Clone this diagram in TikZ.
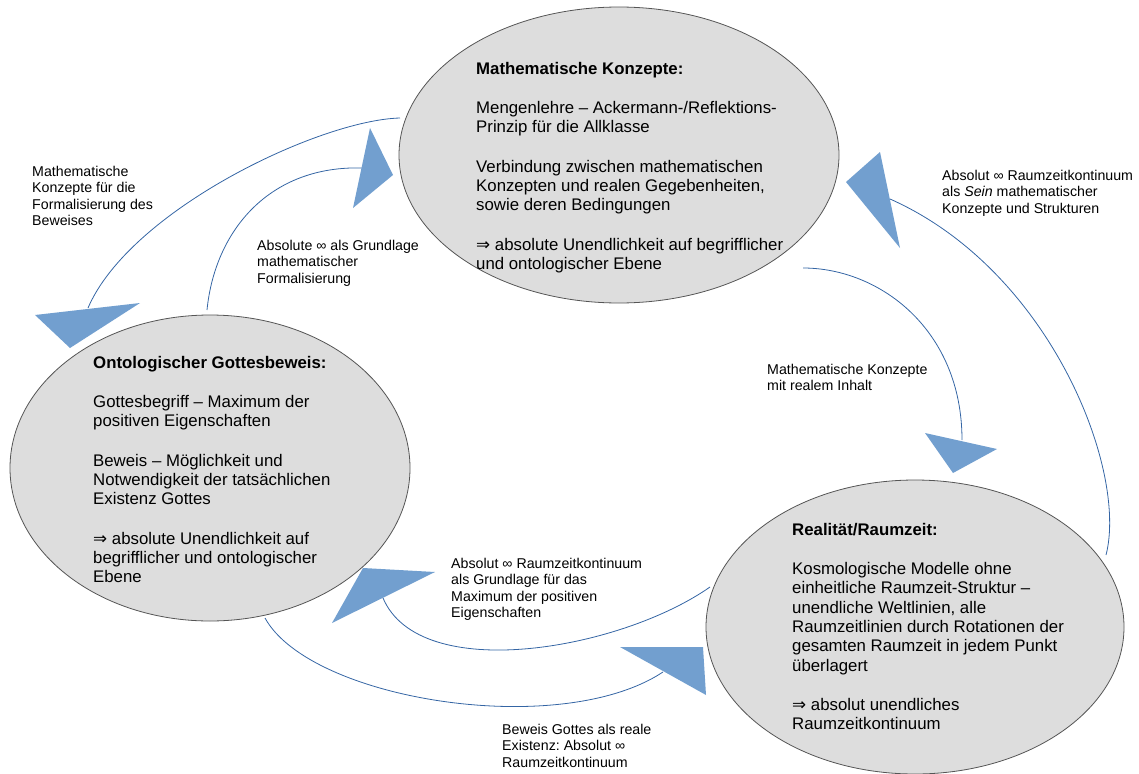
\documentclass[tikz,border=0pt]{standalone}
\usepackage{fontspec}
\setmainfont{Liberation Sans}
\newfontfamily\arrowfont{DejaVu Sans}
\usetikzlibrary{shapes.geometric}
\definecolor{blobgray}{HTML}{DDDDDD}
\definecolor{ringgray}{HTML}{555555}
\definecolor{flowline}{HTML}{3465A4}
\definecolor{headblue}{HTML}{729FCF}
\newcommand{\impl}{{\arrowfont ⇒}}
\frenchspacing

\begin{document}
\begin{tikzpicture}[x=1pt,y=-1pt,
    blob/.style={ellipse,draw=ringgray,fill=blobgray,line width=0.8pt,inner sep=0pt},
    body/.style={anchor=north west,inner sep=0pt,align=left,font=\fontsize{16.8}{19.3}\selectfont},
    note/.style={anchor=north west,inner sep=0pt,align=left,font=\fontsize{14.2}{16.3}\selectfont},
    flow/.style={draw=flowline,line width=0.8pt},
    head/.style={fill=headblue}]
        \useasboundingbox (0,0) rectangle (1139,773);
        % the three ellipses
        \node[blob,minimum width=440pt,minimum height=296pt] (mk) at (619,155) {};
        \node[blob,minimum width=400pt,minimum height=306pt] (gb) at (210,468) {};
        \node[blob,minimum width=418pt,minimum height=294pt] (rz) at (915,627) {};
        \node[body] (mktext) at (476,62) {\textbf{Mathematische Konzepte:}\\[20pt]
          Mengenlehre – Ackermann-/Reflektions-\\
          Prinzip für die Allklasse\\[20pt]
          Verbindung zwischen mathematischen\\
          Konzepten und realen Gegebenheiten,\\
          sowie deren Bedingungen\\[20pt]
          \impl{} absolute Unendlichkeit auf begrifflicher\\
          und ontologischer Ebene};
        \node[body] (gbtext) at (93,356) {\textbf{Ontologischer Gottesbeweis:}\\[20pt]
          Gottesbegriff – Maximum der\\
          positiven Eigenschaften\\[20pt]
          Beweis – Möglichkeit und\\
          Notwendigkeit der tatsächlichen\\
          Existenz Gottes\\[20pt]
          \impl{} absolute Unendlichkeit auf\\
          begrifflicher und ontologischer\\
          Ebene};
        \node[body] (rztext) at (792,523) {\textbf{Realität/Raumzeit:}\\[20pt]
          Kosmologische Modelle ohne\\
          einheitliche Raumzeit-Struktur –\\
          unendliche Weltlinien, alle\\
          Raumzeitlinien durch Rotationen der\\
          gesamten Raumzeit in jedem Punkt\\
          überlagert\\[20pt]
          \impl{} absolut unendliches\\
          Raumzeitkontinuum};
        % ends of the curved connectors
        \coordinate (mk-gb) at (400,118);
        \coordinate (gb-in) at (88,308);
        \coordinate (gb-mk) at (207,310);
        \coordinate (mk-in) at (363,168);
        \coordinate (mk-rz) at (803,268);
        \coordinate (rz-in) at (962,440);
        \coordinate (rz-mk) at (1106,555);
        \coordinate (mk-in2) at (890,199);
        \coordinate (rz-gb) at (710,587);
        \coordinate (gb-in2) at (383,598);
        \coordinate (gb-rz) at (265,618);
        \coordinate (rz-in2) at (663,672);
        \draw[flow] (mk-gb) .. controls (320,120) and (130,210) .. (gb-in);
        \draw[flow] (gb-mk) .. controls (215,230) and (270,165) .. (mk-in);
        \draw[flow] (mk-rz) .. controls (880,268) and (962,330) .. (rz-in);
        \draw[flow] (rz-mk) .. controls (1128,470) and (1050,270) .. (mk-in2);
        \draw[flow] (rz-gb) .. controls (620,650) and (420,685) .. (gb-in2);
        \draw[flow] (gb-rz) .. controls (310,700) and (560,740) .. (rz-in2);
        % arrow heads
        \fill[head] (35,315) -- (140,303) -- (70,348) -- cycle;
        \fill[head] (370,128) -- (393,175) -- (353,208) -- cycle;
        \fill[head] (925,433) -- (997,449) -- (953,473) -- cycle;
        \fill[head] (880,152) -- (846,182) -- (900,248) -- cycle;
        \fill[head] (363,568) -- (435,572) -- (332,623) -- cycle;
        \fill[head] (620,647) -- (703,647) -- (706,695) -- cycle;
        % connector labels
        \node[note] (l1) at (32,166) {Mathematische\\Konzepte für die\\Formalisierung des\\Beweises};
        \node[note] (l2) at (257,240) {Absolute ∞ als Grundlage\\mathematischer\\Formalisierung};
        \node[note] (l3) at (942,170) {Absolut ∞ Raumzeitkontinuum\\als \textit{Sein} mathematischer\\Konzepte und Strukturen};
        \node[note] (l4) at (767,364) {Mathematische Konzepte\\mit realem Inhalt};
        \node[note] (l5) at (451,558) {Absolut ∞ Raumzeitkontinuum\\als Grundlage für das\\Maximum der positiven\\Eigenschaften};
        \node[note] (l6) at (502,724) {Beweis Gottes als reale\\Existenz: Absolut ∞\\Raumzeitkontinuum};
      \end{tikzpicture}
\end{document}
